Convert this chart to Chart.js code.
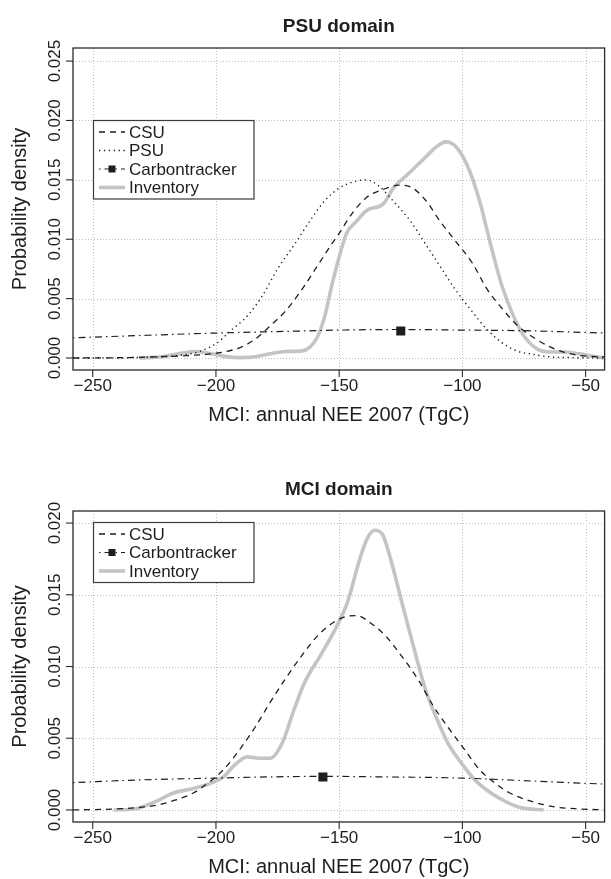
<!DOCTYPE html>
<html>
<head>
<meta charset="utf-8">
<script src="https://cdn.jsdelivr.net/npm/chart.js@4.4.1/dist/chart.umd.min.js"></script>
<style>
  body { margin: 0; background: #fff; }
  #wrap { position: relative; width: 611px; height: 879px; }
  canvas { position: absolute; left: 0; }
</style>
</head>
<body>
<div id="wrap">
  <canvas id="psu" width="611" height="440" style="top:0"></canvas>
  <canvas id="mci" width="611" height="439" style="top:440px"></canvas>
</div>
<script>
// tick labels
const xTicks = [-250, -200, -150, -100, -50];
const psuYTicks = [0, 0.005, 0.010, 0.015, 0.020, 0.025];
const mciYTicks = [0, 0.005, 0.010, 0.015, 0.020];

// PSU domain panel
const psuCsuX = [-258, -240, -225, -212, -200, -190, -184, -178, -172, -165, -159, -153, -150, -145, -139, -132, -126, -121, -115, -109, -103, -96, -90, -84, -78, -71, -65, -59, -52, -42];
const psuCsuY = [0, 0.00002, 0.0001, 0.0002, 0.0004, 0.0009, 0.0016, 0.0027, 0.0039, 0.0058, 0.0077, 0.0096, 0.0105, 0.0121, 0.0135, 0.0142, 0.01455, 0.0144, 0.0133, 0.0115, 0.0099, 0.0080, 0.0058, 0.0042, 0.0028, 0.0017, 0.0010, 0.0005, 0.0002, 0.0001];
const psuPsuX = [-258, -230, -212, -206, -200, -194, -187, -181, -175, -168, -162, -156, -150, -143, -139, -134, -128, -121, -115, -109, -103, -96, -90, -84, -78, -71, -65, -55, -42];
const psuPsuY = [0, 0.00005, 0.0003, 0.0006, 0.0012, 0.0023, 0.0036, 0.0053, 0.0075, 0.0096, 0.0115, 0.0132, 0.0143, 0.0149, 0.0150, 0.0145, 0.0132, 0.0115, 0.0096, 0.0077, 0.0058, 0.0039, 0.0024, 0.0013, 0.0006, 0.0003, 0.0001, 0.00003, 0];
const psuCtX = [-258, -230, -200, -170, -150, -125, -100, -75, -42];
const psuCtY = [0.0017, 0.0019, 0.0021, 0.00225, 0.00235, 0.0024, 0.00235, 0.0023, 0.0021];
const psuCtMean = [-125];
const psuCtMark = [0.00227];
const psuInvX = [-231, -222, -214, -208.5, -203, -197, -190, -184, -178, -172, -165, -162, -159, -156, -153, -150, -147, -143, -139, -132, -128, -121.5, -115, -110.5, -106.6, -102.7, -98, -93, -88.6, -84, -79, -74.5, -70, -65, -59, -52.5, -46, -42];
const psuInvY = [0, 0.0001, 0.0004, 0.00055, 0.0004, 0.00016, 0.00003, 0.0001, 0.00035, 0.00055, 0.0006, 0.0009, 0.0017, 0.0034, 0.0061, 0.0085, 0.0105, 0.0115, 0.0124, 0.0130, 0.0143, 0.0156, 0.0169, 0.0178, 0.0182, 0.0178, 0.0162, 0.0132, 0.0096, 0.0061, 0.0034, 0.0017, 0.0008, 0.0005, 0.0005, 0.00035, 0.0001, 0];

// MCI domain panel
const mciCsuX = [-258, -241, -225, -217, -209, -203, -197, -190, -184, -178, -172, -165, -159, -153, -147, -143, -137, -131, -125, -118, -112, -106, -99.5, -93, -87, -81, -71, -62, -52.5, -42];
const mciCsuY = [0, 0.00007, 0.0003, 0.00066, 0.0012, 0.0019, 0.0028, 0.0043, 0.0058, 0.0075, 0.0091, 0.0108, 0.0121, 0.0130, 0.0135, 0.01355, 0.0130, 0.0121, 0.0108, 0.0091, 0.0073, 0.0058, 0.0043, 0.0028, 0.0019, 0.0012, 0.00055, 0.0002, 0.00007, 0];
const mciCtX = [-258, -230, -200, -180, -157, -130, -100, -70, -42];
const mciCtY = [0.0019, 0.0021, 0.00222, 0.0023, 0.00234, 0.0023, 0.00222, 0.0020, 0.0018];
const mciCtMean = [-156.6];
const mciCtMark = [0.0023];
const mciInvX = [-241.5, -233, -225, -217, -209, -201.5, -197, -192, -187.3, -182.6, -178, -173, -168.5, -164, -157.5, -151, -146.6, -141.8, -138.7, -135.6, -132.4, -129.3, -124.6, -120, -115, -110.5, -106, -101, -95, -88.6, -82, -76, -67];
const mciInvY = [0, 0.00007, 0.00055, 0.0012, 0.0015, 0.0019, 0.0023, 0.0032, 0.0037, 0.0036, 0.0036, 0.0047, 0.0069, 0.0089, 0.0108, 0.0128, 0.0145, 0.0174, 0.0189, 0.0195, 0.0192, 0.0176, 0.0145, 0.0115, 0.0084, 0.0064, 0.0047, 0.0034, 0.0021, 0.0012, 0.00055, 0.00015, 0];

const pts = (xs, ys) => xs.map((x, i) => ({ x: x, y: ys[i] }));
const INK = '#1e1e1e';
const FONT = '"Liberation Sans", Arial, sans-serif';

const styles = {
  csu: { borderColor: INK, borderWidth: 1.3, borderDash: [6, 5] },
  psu: { borderColor: INK, borderWidth: 1.4, borderDash: [1.3, 3.6] },
  ct: { borderColor: INK, borderWidth: 1.2, borderDash: [1.5, 4, 7, 4] },
  inv: { borderColor: '#c4c4c4', borderWidth: 3.6, borderDash: [] }
};

function line(ctx, x1, y1, x2, y2) {
  ctx.beginPath();
  ctx.moveTo(x1, y1);
  ctx.lineTo(x2, y2);
  ctx.stroke();
}

// R-like frame: grid, box, ticks, labels, title and legend
const frame = {
  id: 'frame',
  beforeDatasetsDraw(chart, args, o) {
    const { ctx, chartArea: a, scales: { x, y } } = chart;
    ctx.save();
    ctx.strokeStyle = '#bdbdbd';
    ctx.lineWidth = 1;
    ctx.setLineDash([1, 2]);
    o.xTicks.forEach(v => {
      const px = Math.round(x.getPixelForValue(v)) + 0.5;
      line(ctx, px, a.top, px, a.bottom);
    });
    o.yTicks.forEach(v => {
      const py = Math.round(y.getPixelForValue(v)) + 0.5;
      line(ctx, a.left, py, a.right, py);
    });
    ctx.restore();
  },
  afterDatasetsDraw(chart, args, o) {
    const { ctx, chartArea: a, scales: { x, y } } = chart;
    ctx.save();
    ctx.setLineDash([]);
    ctx.strokeStyle = '#2a2a2a';
    ctx.lineWidth = 1.3;
    ctx.strokeRect(a.left, a.top, a.right - a.left, a.bottom - a.top);

    ctx.fillStyle = INK;
    ctx.lineWidth = 1.1;
    ctx.font = '17px ' + FONT;
    ctx.textAlign = 'center';
    ctx.textBaseline = 'middle';
    o.xTicks.forEach(v => {
      const px = x.getPixelForValue(v);
      line(ctx, px, a.bottom, px, a.bottom + 7);
      ctx.fillText(String(v).replace('-', '\u2212'), px, a.bottom + 16);
    });
    o.yTicks.forEach(v => {
      const py = y.getPixelForValue(v);
      line(ctx, a.left - 7, py, a.left, py);
      ctx.save();
      ctx.translate(55, py);
      ctx.rotate(-Math.PI / 2);
      ctx.fillText(v.toFixed(3), 0, 0);
      ctx.restore();
    });

    ctx.font = '20px ' + FONT;
    ctx.fillText(o.xTitle, (a.left + a.right) / 2, a.bottom + 45);
    ctx.save();
    ctx.translate(20, (a.top + a.bottom) / 2);
    ctx.rotate(-Math.PI / 2);
    ctx.fillText(o.yTitle, 0, 0);
    ctx.restore();

    ctx.font = 'bold 19px ' + FONT;
    ctx.fillText(o.title, (a.left + a.right) / 2, a.top - 21);

    // legend box
    const items = chart.data.datasets.filter(d => d.label);
    const lx = o.legendLeft, ly = o.legendTop, rowH = 18.5, pad = 11.5;
    const h = pad * 2 + (items.length - 1) * rowH;
    ctx.fillStyle = '#fff';
    ctx.fillRect(lx, ly, 160.5, h);
    ctx.strokeStyle = '#3a3a3a';
    ctx.lineWidth = 1.2;
    ctx.strokeRect(lx, ly, 160.5, h);
    ctx.textAlign = 'left';
    ctx.font = '17px ' + FONT;
    items.forEach((d, i) => {
      const cy = ly + pad + i * rowH;
      ctx.save();
      ctx.strokeStyle = d.borderColor;
      ctx.lineWidth = d.borderWidth;
      ctx.setLineDash(d.borderDash);
      line(ctx, lx + 5.5, cy, lx + 31.5, cy);
      ctx.restore();
      if (d.legendMarker) {
        ctx.fillStyle = INK;
        ctx.fillRect(lx + 15, cy - 3.5, 7, 7);
      }
      ctx.fillStyle = INK;
      ctx.fillText(d.label, lx + 35.5, cy + 1);
    });
    ctx.restore();
  }
};

function densityChart(id, sets, yMin, yMax, yTicks, title, padTop, padBottom, legendTop) {
  const datasets = [];
  sets.forEach(s => {
    if (s.mark) {
      datasets.push({
        data: pts(s.mark[0], s.mark[1]),
        showLine: false,
        pointStyle: 'rect',
        pointRadius: 6.4,
        backgroundColor: INK,
        borderColor: INK,
        borderWidth: 0
      });
    }
  });
  sets.forEach(s => {
    datasets.push(Object.assign({
      label: s.label,
      data: pts(s.x, s.y),
      showLine: true,
      fill: false,
      pointRadius: 0,
      cubicInterpolationMode: 'monotone',
      legendMarker: !!s.mark
    }, styles[s.style]));
  });

  return new Chart(document.getElementById(id), {
    type: 'scatter',
    data: { datasets: datasets },
    options: {
      responsive: false,
      animation: false,
      layout: { padding: { left: 73, right: 1, top: padTop, bottom: padBottom } },
      scales: {
        x: { type: 'linear', display: false, min: -258, max: -42.3 },
        y: { type: 'linear', display: false, min: yMin, max: yMax }
      },
      plugins: {
        legend: { display: false },
        tooltip: { enabled: false },
        frame: {
          xTicks: xTicks,
          yTicks: yTicks,
          title: title,
          xTitle: 'MCI: annual NEE 2007 (TgC)',
          yTitle: 'Probability density',
          legendLeft: 93.5,
          legendTop: legendTop
        }
      }
    },
    plugins: [frame]
  });
}

densityChart('psu', [
  { label: 'CSU', style: 'csu', x: psuCsuX, y: psuCsuY },
  { label: 'PSU', style: 'psu', x: psuPsuX, y: psuPsuY },
  { label: 'Carbontracker', style: 'ct', x: psuCtX, y: psuCtY, mark: [psuCtMean, psuCtMark] },
  { label: 'Inventory', style: 'inv', x: psuInvX, y: psuInvY }
], -0.00101, 0.0261, psuYTicks, 'PSU domain', 48, 70, 120.5);

densityChart('mci', [
  { label: 'CSU', style: 'csu', x: mciCsuX, y: mciCsuY },
  { label: 'Carbontracker', style: 'ct', x: mciCtX, y: mciCtY, mark: [mciCtMean, mciCtMark] },
  { label: 'Inventory', style: 'inv', x: mciInvX, y: mciInvY }
], -0.00084, 0.02084, mciYTicks, 'MCI domain', 71, 57, 82.5);
</script>
</body>
</html>
